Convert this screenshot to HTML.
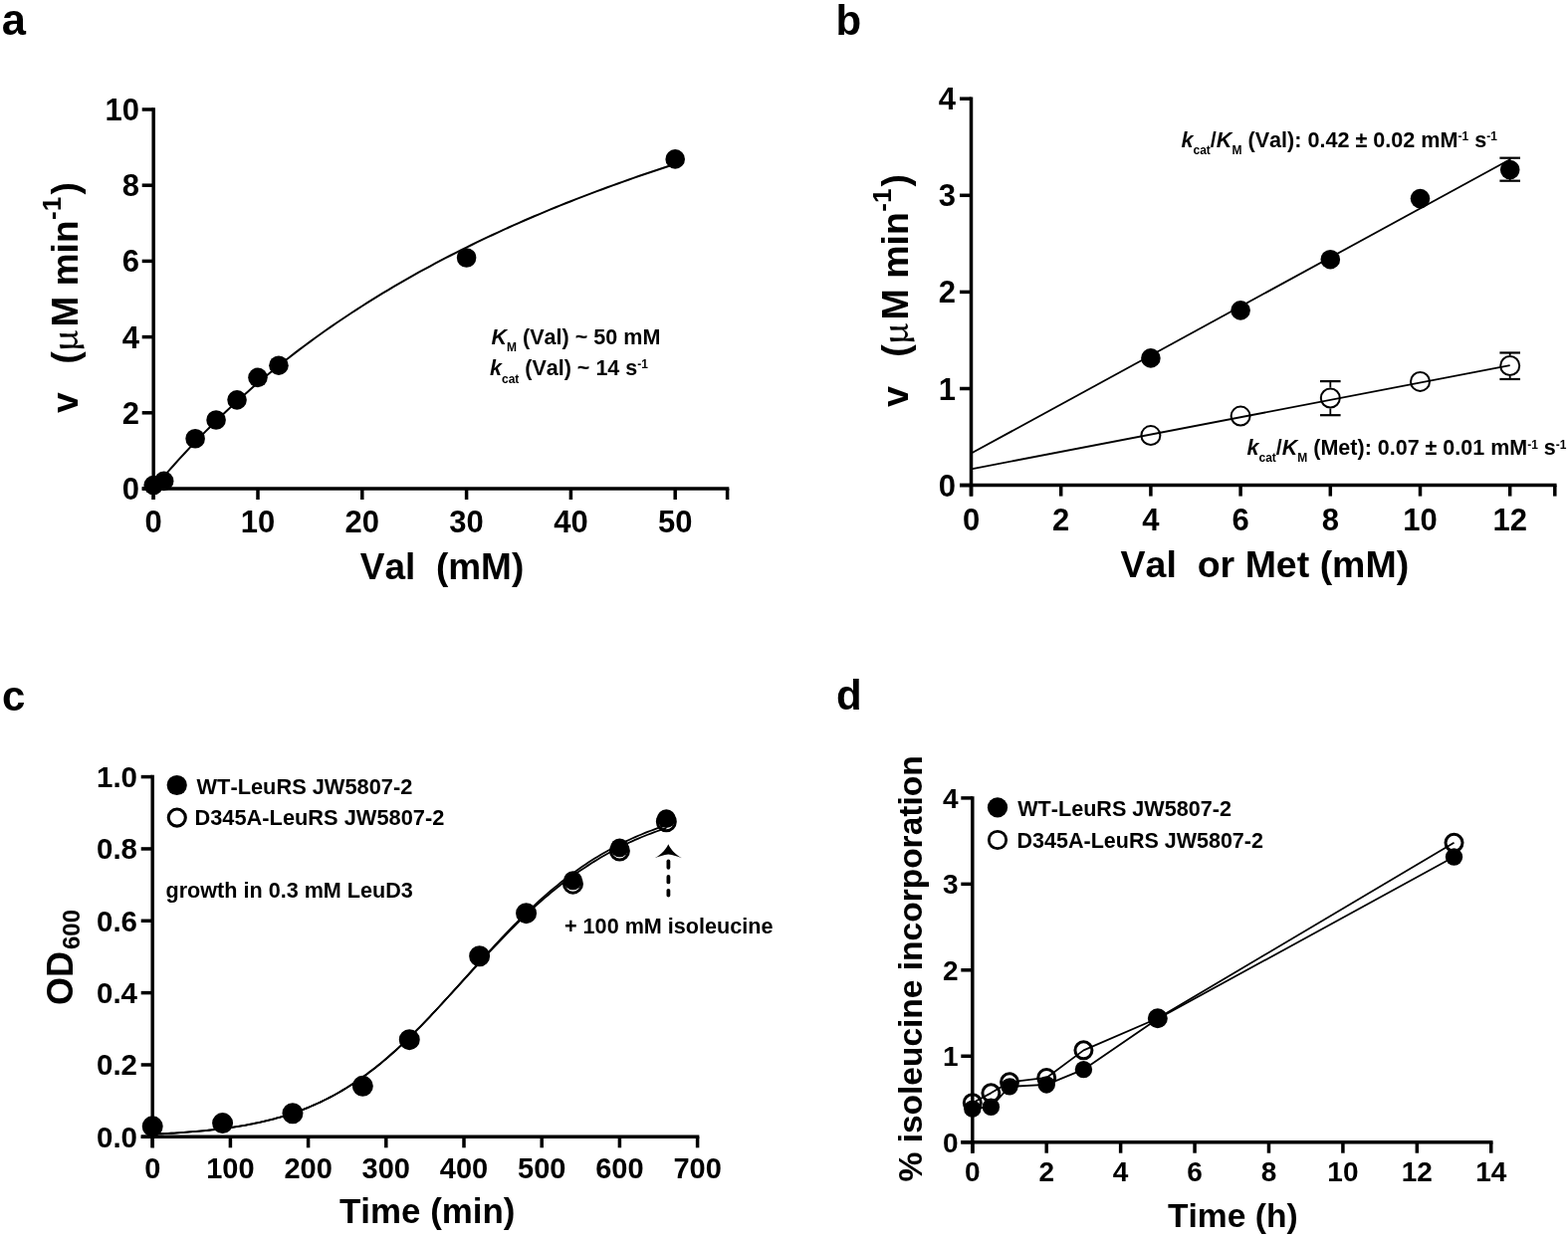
<!DOCTYPE html>
<html><head><meta charset="utf-8"><style>
html,body{margin:0;padding:0;background:#fff;}
svg{display:block;}
text{font-family:"Liberation Sans",Arial,sans-serif;font-weight:bold;fill:#000;font-kerning:none;}
</style></head><body>
<svg width="1575" height="1244" viewBox="0 0 1575 1244">
<rect width="100%" height="100%" fill="#fff"/>
<text id="a_lbl" x="1.8" y="34.6" font-size="43.5" text-anchor="start" >a</text>
<line x1="154.2" y1="108.25" x2="154.2" y2="502" stroke="#000" stroke-width="3.5" />
<line x1="142.7" y1="491" x2="732.35" y2="491" stroke="#000" stroke-width="3.5" />
<line x1="142.7" y1="491" x2="154.2" y2="491" stroke="#000" stroke-width="3.5" />
<line x1="142.7" y1="414.8" x2="154.2" y2="414.8" stroke="#000" stroke-width="3.5" />
<line x1="142.7" y1="338.6" x2="154.2" y2="338.6" stroke="#000" stroke-width="3.5" />
<line x1="142.7" y1="262.4" x2="154.2" y2="262.4" stroke="#000" stroke-width="3.5" />
<line x1="142.7" y1="186.2" x2="154.2" y2="186.2" stroke="#000" stroke-width="3.5" />
<line x1="142.7" y1="110" x2="154.2" y2="110" stroke="#000" stroke-width="3.5" />
<line x1="154.2" y1="491" x2="154.2" y2="502" stroke="#000" stroke-width="3.5" />
<line x1="259" y1="491" x2="259" y2="502" stroke="#000" stroke-width="3.5" />
<line x1="363.8" y1="491" x2="363.8" y2="502" stroke="#000" stroke-width="3.5" />
<line x1="468.6" y1="491" x2="468.6" y2="502" stroke="#000" stroke-width="3.5" />
<line x1="573.4" y1="491" x2="573.4" y2="502" stroke="#000" stroke-width="3.5" />
<line x1="678.2" y1="491" x2="678.2" y2="502" stroke="#000" stroke-width="3.5" />
<line x1="730.6" y1="491" x2="730.6" y2="502" stroke="#000" stroke-width="3.5" />
<text id="a_y0" x="140" y="502" font-size="31" text-anchor="end" >0</text>
<text id="a_y2" x="140" y="425.8" font-size="31" text-anchor="end" >2</text>
<text id="a_y4" x="140" y="349.6" font-size="31" text-anchor="end" >4</text>
<text id="a_y6" x="140" y="273.4" font-size="31" text-anchor="end" >6</text>
<text id="a_y8" x="140" y="197.2" font-size="31" text-anchor="end" >8</text>
<text id="a_y10" x="140" y="121" font-size="31" text-anchor="end" >10</text>
<text id="a_x0" x="154.2" y="535" font-size="31" text-anchor="middle" >0</text>
<text id="a_x10" x="259" y="535" font-size="31" text-anchor="middle" >10</text>
<text id="a_x20" x="363.8" y="535" font-size="31" text-anchor="middle" >20</text>
<text id="a_x30" x="468.6" y="535" font-size="31" text-anchor="middle" >30</text>
<text id="a_x40" x="573.4" y="535" font-size="31" text-anchor="middle" >40</text>
<text id="a_x50" x="678.2" y="535" font-size="31" text-anchor="middle" >50</text>
<polyline points="154.2,491 159.44,484.76 164.68,478.64 169.92,472.63 175.16,466.72 180.4,460.93 185.64,455.23 190.88,449.63 196.12,444.13 201.36,438.72 206.6,433.41 211.84,428.18 217.08,423.05 222.32,418 227.56,413.03 232.8,408.14 238.04,403.33 243.28,398.6 248.52,393.94 253.76,389.36 259,384.85 264.24,380.41 269.48,376.04 274.72,371.73 279.96,367.49 285.2,363.31 290.44,359.2 295.68,355.15 300.92,351.16 306.16,347.22 311.4,343.35 316.64,339.53 321.88,335.76 327.12,332.05 332.36,328.39 337.6,324.78 342.84,321.22 348.08,317.71 353.32,314.25 358.56,310.84 363.8,307.47 369.04,304.15 374.28,300.87 379.52,297.64 384.76,294.45 390,291.3 395.24,288.19 400.48,285.12 405.72,282.09 410.96,279.1 416.2,276.15 421.44,273.23 426.68,270.36 431.92,267.51 437.16,264.71 442.4,261.93 447.64,259.19 452.88,256.49 458.12,253.82 463.36,251.18 468.6,248.57 473.84,245.99 479.08,243.44 484.32,240.92 489.56,238.43 494.8,235.97 500.04,233.54 505.28,231.14 510.52,228.76 515.76,226.41 521,224.09 526.24,221.79 531.48,219.52 536.72,217.28 541.96,215.05 547.2,212.86 552.44,210.68 557.68,208.53 562.92,206.41 568.16,204.3 573.4,202.22 578.64,200.16 583.88,198.13 589.12,196.11 594.36,194.12 599.6,192.14 604.84,190.19 610.08,188.25 615.32,186.34 620.56,184.45 625.8,182.57 631.04,180.71 636.28,178.88 641.52,177.06 646.76,175.26 652,173.47 657.24,171.71 662.48,169.96 667.72,168.23 672.96,166.51 678.2,164.81" fill="none" stroke="#000" stroke-width="2.0" stroke-linejoin="round" />
<circle cx="154.2" cy="487.57" r="9.8" fill="#000"/>
<circle cx="164.68" cy="483.38" r="9.8" fill="#000"/>
<circle cx="196.12" cy="440.71" r="9.8" fill="#000"/>
<circle cx="217.08" cy="422.04" r="9.8" fill="#000"/>
<circle cx="238.04" cy="401.85" r="9.8" fill="#000"/>
<circle cx="259" cy="379.37" r="9.8" fill="#000"/>
<circle cx="279.96" cy="367.18" r="9.8" fill="#000"/>
<circle cx="468.6" cy="258.97" r="9.8" fill="#000"/>
<circle cx="678.2" cy="159.91" r="9.8" fill="#000"/>
<text id="a_xl" x="361.8" y="581.6" font-size="37" text-anchor="start" >Val&#160;&#160;(mM)</text>
<text id="a_km" x="493.5" y="345.6" font-size="21.55" text-anchor="start" ><tspan font-style="italic">K</tspan><tspan font-size="12" dy="7.3">M</tspan><tspan dy="-7.3"> (Val) ~ 50 mM</tspan></text>
<text id="a_kcat" x="492" y="377.3" font-size="21.5" text-anchor="start" ><tspan font-style="italic">k</tspan><tspan font-size="12" dy="7.3">cat</tspan><tspan dy="-7.3"> (Val) ~ 14 s</tspan><tspan font-size="12" dy="-7">-1</tspan></text>
<text id="a_yl" transform="translate(77.6,299) rotate(-90)" font-size="37" text-anchor="middle"><tspan>v&#160;&#160;&#160;</tspan><tspan dx="-2">(</tspan><tspan font-family="&quot;Noto Serif CJK SC&quot;, serif" font-weight="600" font-size="34">μ</tspan><tspan dx="3">M min</tspan><tspan font-size="26" dy="-17" dx="0.5">-1</tspan><tspan dy="17" dx="2.5">)</tspan></text>
<text id="b_lbl" x="839.5" y="34.5" font-size="42" text-anchor="start" >b</text>
<line x1="975.5" y1="97.45" x2="975.5" y2="498.6" stroke="#000" stroke-width="3.5" />
<line x1="964" y1="487.6" x2="1563.55" y2="487.6" stroke="#000" stroke-width="3.5" />
<line x1="964" y1="487.6" x2="975.5" y2="487.6" stroke="#000" stroke-width="3.5" />
<line x1="964" y1="390.5" x2="975.5" y2="390.5" stroke="#000" stroke-width="3.5" />
<line x1="964" y1="293.4" x2="975.5" y2="293.4" stroke="#000" stroke-width="3.5" />
<line x1="964" y1="196.3" x2="975.5" y2="196.3" stroke="#000" stroke-width="3.5" />
<line x1="964" y1="99.2" x2="975.5" y2="99.2" stroke="#000" stroke-width="3.5" />
<line x1="975.5" y1="487.6" x2="975.5" y2="498.6" stroke="#000" stroke-width="3.5" />
<line x1="1065.7" y1="487.6" x2="1065.7" y2="498.6" stroke="#000" stroke-width="3.5" />
<line x1="1155.9" y1="487.6" x2="1155.9" y2="498.6" stroke="#000" stroke-width="3.5" />
<line x1="1246.1" y1="487.6" x2="1246.1" y2="498.6" stroke="#000" stroke-width="3.5" />
<line x1="1336.3" y1="487.6" x2="1336.3" y2="498.6" stroke="#000" stroke-width="3.5" />
<line x1="1426.5" y1="487.6" x2="1426.5" y2="498.6" stroke="#000" stroke-width="3.5" />
<line x1="1516.7" y1="487.6" x2="1516.7" y2="498.6" stroke="#000" stroke-width="3.5" />
<line x1="1561.8" y1="487.6" x2="1561.8" y2="498.6" stroke="#000" stroke-width="3.5" />
<text id="b_y0" x="960" y="498.6" font-size="31" text-anchor="end" >0</text>
<text id="b_y1" x="960" y="401.5" font-size="31" text-anchor="end" >1</text>
<text id="b_y2" x="960" y="304.4" font-size="31" text-anchor="end" >2</text>
<text id="b_y3" x="960" y="207.3" font-size="31" text-anchor="end" >3</text>
<text id="b_y4" x="960" y="110.2" font-size="31" text-anchor="end" >4</text>
<text id="b_x0" x="975.5" y="533" font-size="31" text-anchor="middle" >0</text>
<text id="b_x2" x="1065.7" y="533" font-size="31" text-anchor="middle" >2</text>
<text id="b_x4" x="1155.9" y="533" font-size="31" text-anchor="middle" >4</text>
<text id="b_x6" x="1246.1" y="533" font-size="31" text-anchor="middle" >6</text>
<text id="b_x8" x="1336.3" y="533" font-size="31" text-anchor="middle" >8</text>
<text id="b_x10" x="1426.5" y="533" font-size="31" text-anchor="middle" >10</text>
<text id="b_x12" x="1516.7" y="533" font-size="31" text-anchor="middle" >12</text>
<polyline points="975.5,455.56 1516.7,160.3" fill="none" stroke="#000" stroke-width="1.8" stroke-linejoin="round" />
<polyline points="975.5,471.29 1516.7,367.23" fill="none" stroke="#000" stroke-width="1.8" stroke-linejoin="round" />
<line x1="1516.7" y1="158.7" x2="1516.7" y2="161.57" stroke="#000" stroke-width="1.8" />
<line x1="1516.7" y1="179.57" x2="1516.7" y2="181.7" stroke="#000" stroke-width="1.8" />
<line x1="1506.4" y1="158.7" x2="1527" y2="158.7" stroke="#000" stroke-width="2.2" />
<line x1="1506.4" y1="181.7" x2="1527" y2="181.7" stroke="#000" stroke-width="2.2" />
<line x1="1336.3" y1="383.12" x2="1336.3" y2="389.52" stroke="#000" stroke-width="1.8" />
<line x1="1336.3" y1="410.52" x2="1336.3" y2="417.2" stroke="#000" stroke-width="1.8" />
<line x1="1326" y1="383.12" x2="1346.6" y2="383.12" stroke="#000" stroke-width="2.2" />
<line x1="1326" y1="417.2" x2="1346.6" y2="417.2" stroke="#000" stroke-width="2.2" />
<line x1="1516.7" y1="354.48" x2="1516.7" y2="356.99" stroke="#000" stroke-width="1.8" />
<line x1="1516.7" y1="377.99" x2="1516.7" y2="380.98" stroke="#000" stroke-width="1.8" />
<line x1="1506.4" y1="354.48" x2="1527" y2="354.48" stroke="#000" stroke-width="2.2" />
<line x1="1506.4" y1="380.98" x2="1527" y2="380.98" stroke="#000" stroke-width="2.2" />
<circle cx="1155.9" cy="359.91" r="9.8" fill="#000"/>
<circle cx="1246.1" cy="311.85" r="9.8" fill="#000"/>
<circle cx="1336.3" cy="260.68" r="9.8" fill="#000"/>
<circle cx="1426.5" cy="199.6" r="9.8" fill="#000"/>
<circle cx="1516.7" cy="170.57" r="9.8" fill="#000"/>
<circle cx="1155.9" cy="437.59" r="9.5" fill="none" stroke="#000" stroke-width="2"/>
<circle cx="1246.1" cy="418.08" r="9.5" fill="none" stroke="#000" stroke-width="2"/>
<circle cx="1336.3" cy="400.02" r="9.5" fill="none" stroke="#000" stroke-width="2"/>
<circle cx="1426.5" cy="383.41" r="9.5" fill="none" stroke="#000" stroke-width="2"/>
<circle cx="1516.7" cy="367.49" r="9.5" fill="none" stroke="#000" stroke-width="2"/>
<text id="b_xl" x="1125.6" y="580.2" font-size="37.5" text-anchor="start" >Val&#160;&#160;or Met (mM)</text>
<text id="b_ann1" x="1186.5" y="147.5" font-size="21.6" text-anchor="start" ><tspan font-style="italic">k</tspan><tspan font-size="12" dy="7.3">cat</tspan><tspan dy="-7.3">/</tspan><tspan font-style="italic">K</tspan><tspan font-size="12" dy="7.3">M</tspan><tspan dy="-7.3"> (Val): </tspan><tspan>0.42 ± 0.02 mM</tspan><tspan font-size="12" dy="-6.5">-1</tspan><tspan dy="6.5"> s</tspan><tspan font-size="12" dy="-6.5">-1</tspan></text>
<text id="b_ann2" x="1252.5" y="457.1" font-size="21.5" text-anchor="start" ><tspan font-style="italic">k</tspan><tspan font-size="12" dy="7.3">cat</tspan><tspan dy="-7.3">/</tspan><tspan font-style="italic">K</tspan><tspan font-size="12" dy="7.3">M</tspan><tspan dy="-7.3"> (Met): </tspan><tspan>0.07 ± 0.01 mM</tspan><tspan font-size="12" dy="-6.5">-1</tspan><tspan dy="6.5"> s</tspan><tspan font-size="12" dy="-6.5">-1</tspan></text>
<text id="b_yl" transform="translate(911.6,292) rotate(-90)" font-size="37.5" text-anchor="middle"><tspan>v&#160;&#160;&#160;</tspan><tspan dx="-2">(</tspan><tspan font-family="&quot;Noto Serif CJK SC&quot;, serif" font-weight="600" font-size="34">μ</tspan><tspan dx="3">M min</tspan><tspan font-size="26" dy="-17" dx="0.5">-1</tspan><tspan dy="17" dx="2">)</tspan></text>
<text id="c_lbl" x="2" y="713.5" font-size="42" text-anchor="start" >c</text>
<line x1="153.2" y1="778.85" x2="153.2" y2="1153.3" stroke="#000" stroke-width="3.5" />
<line x1="141.7" y1="1142.3" x2="702.35" y2="1142.3" stroke="#000" stroke-width="3.5" />
<line x1="141.7" y1="1142.3" x2="153.2" y2="1142.3" stroke="#000" stroke-width="3.5" />
<line x1="141.7" y1="1069.96" x2="153.2" y2="1069.96" stroke="#000" stroke-width="3.5" />
<line x1="141.7" y1="997.62" x2="153.2" y2="997.62" stroke="#000" stroke-width="3.5" />
<line x1="141.7" y1="925.28" x2="153.2" y2="925.28" stroke="#000" stroke-width="3.5" />
<line x1="141.7" y1="852.94" x2="153.2" y2="852.94" stroke="#000" stroke-width="3.5" />
<line x1="141.7" y1="780.6" x2="153.2" y2="780.6" stroke="#000" stroke-width="3.5" />
<line x1="153.2" y1="1142.3" x2="153.2" y2="1153.3" stroke="#000" stroke-width="3.5" />
<line x1="231.4" y1="1142.3" x2="231.4" y2="1153.3" stroke="#000" stroke-width="3.5" />
<line x1="309.6" y1="1142.3" x2="309.6" y2="1153.3" stroke="#000" stroke-width="3.5" />
<line x1="387.8" y1="1142.3" x2="387.8" y2="1153.3" stroke="#000" stroke-width="3.5" />
<line x1="466" y1="1142.3" x2="466" y2="1153.3" stroke="#000" stroke-width="3.5" />
<line x1="544.2" y1="1142.3" x2="544.2" y2="1153.3" stroke="#000" stroke-width="3.5" />
<line x1="622.4" y1="1142.3" x2="622.4" y2="1153.3" stroke="#000" stroke-width="3.5" />
<line x1="700.6" y1="1142.3" x2="700.6" y2="1153.3" stroke="#000" stroke-width="3.5" />
<text id="c_y0" x="138" y="1152.8" font-size="29.5" text-anchor="end" >0.0</text>
<text id="c_y1" x="138" y="1080.46" font-size="29.5" text-anchor="end" >0.2</text>
<text id="c_y2" x="138" y="1008.12" font-size="29.5" text-anchor="end" >0.4</text>
<text id="c_y3" x="138" y="935.78" font-size="29.5" text-anchor="end" >0.6</text>
<text id="c_y4" x="138" y="863.44" font-size="29.5" text-anchor="end" >0.8</text>
<text id="c_y5" x="138" y="791.1" font-size="29.5" text-anchor="end" >1.0</text>
<text id="c_x0" x="153.2" y="1184" font-size="29" text-anchor="middle" >0</text>
<text id="c_x100" x="231.4" y="1184" font-size="29" text-anchor="middle" >100</text>
<text id="c_x200" x="309.6" y="1184" font-size="29" text-anchor="middle" >200</text>
<text id="c_x300" x="387.8" y="1184" font-size="29" text-anchor="middle" >300</text>
<text id="c_x400" x="466" y="1184" font-size="29" text-anchor="middle" >400</text>
<text id="c_x500" x="544.2" y="1184" font-size="29" text-anchor="middle" >500</text>
<text id="c_x600" x="622.4" y="1184" font-size="29" text-anchor="middle" >600</text>
<text id="c_x700" x="700.6" y="1184" font-size="29" text-anchor="middle" >700</text>
<polyline points="153.2,1139.68 156.33,1139.54 159.46,1139.4 162.58,1139.24 165.71,1139.08 168.84,1138.92 171.97,1138.74 175.1,1138.55 178.22,1138.36 181.35,1138.15 184.48,1137.93 187.61,1137.71 190.74,1137.47 193.86,1137.22 196.99,1136.96 200.12,1136.68 203.25,1136.39 206.38,1136.09 209.5,1135.77 212.63,1135.44 215.76,1135.09 218.89,1134.73 222.02,1134.34 225.14,1133.94 228.27,1133.52 231.4,1133.08 234.53,1132.62 237.66,1132.14 240.78,1131.63 243.91,1131.1 247.04,1130.55 250.17,1129.97 253.3,1129.37 256.42,1128.74 259.55,1128.08 262.68,1127.39 265.81,1126.67 268.94,1125.92 272.06,1125.14 275.19,1124.33 278.32,1123.48 281.45,1122.59 284.58,1121.67 287.7,1120.71 290.83,1119.71 293.96,1118.67 297.09,1117.59 300.22,1116.46 303.34,1115.3 306.47,1114.08 309.6,1112.82 312.73,1111.52 315.86,1110.17 318.98,1108.76 322.11,1107.31 325.24,1105.8 328.37,1104.25 331.5,1102.64 334.62,1100.98 337.75,1099.26 340.88,1097.48 344.01,1095.65 347.14,1093.77 350.26,1091.82 353.39,1089.82 356.52,1087.76 359.65,1085.64 362.78,1083.47 365.9,1081.23 369.03,1078.94 372.16,1076.58 375.29,1074.17 378.42,1071.7 381.54,1069.18 384.67,1066.59 387.8,1063.95 390.93,1061.26 394.06,1058.51 397.18,1055.71 400.31,1052.85 403.44,1049.94 406.57,1046.99 409.7,1043.99 412.82,1040.94 415.95,1037.84 419.08,1034.71 422.21,1031.53 425.34,1028.32 428.46,1025.06 431.59,1021.78 434.72,1018.46 437.85,1015.12 440.98,1011.75 444.1,1008.35 447.23,1004.94 450.36,1001.5 453.49,998.11 456.62,994.71 459.74,991.3 462.87,987.88 466,984.46 469.13,981.04 472.26,977.61 475.38,974.19 478.51,970.78 481.64,967.38 484.77,963.99 487.9,960.61 491.02,957.25 494.15,953.91 497.28,950.59 500.41,947.3 503.54,944.03 506.66,940.79 509.79,937.58 512.92,934.41 516.05,931.27 519.18,928.17 522.3,925.1 525.43,922.07 528.56,919.09 531.69,916.15 534.82,913.25 537.94,910.39 541.07,907.59 544.2,904.83 547.33,902.11 550.46,899.45 553.58,896.83 556.71,894.26 559.84,891.75 562.97,889.28 566.1,886.87 569.22,884.5 572.35,882.19 575.48,879.92 578.61,877.71 581.74,875.55 584.86,873.44 587.99,871.38 591.12,869.37 594.25,867.35 597.38,865.37 600.5,863.45 603.63,861.57 606.76,859.74 609.89,857.96 613.02,856.22 616.14,854.53 619.27,852.89 622.4,851.29 625.53,849.73 628.66,848.22 631.78,846.75 634.91,845.32 638.04,843.93 641.17,842.58 644.3,841.27 647.42,840 650.55,838.76 653.68,837.56 656.81,836.4 659.94,835.27 663.06,834.18 666.19,833.12 669.32,832.09" fill="none" stroke="#000" stroke-width="1.8" stroke-linejoin="round" />
<polyline points="153.2,1139.68 156.33,1139.54 159.46,1139.4 162.58,1139.24 165.71,1139.08 168.84,1138.92 171.97,1138.74 175.1,1138.55 178.22,1138.36 181.35,1138.15 184.48,1137.93 187.61,1137.71 190.74,1137.47 193.86,1137.22 196.99,1136.96 200.12,1136.68 203.25,1136.39 206.38,1136.09 209.5,1135.77 212.63,1135.44 215.76,1135.09 218.89,1134.73 222.02,1134.34 225.14,1133.94 228.27,1133.52 231.4,1133.08 234.53,1132.62 237.66,1132.14 240.78,1131.63 243.91,1131.1 247.04,1130.55 250.17,1129.97 253.3,1129.37 256.42,1128.74 259.55,1128.08 262.68,1127.39 265.81,1126.67 268.94,1125.92 272.06,1125.14 275.19,1124.33 278.32,1123.48 281.45,1122.59 284.58,1121.67 287.7,1120.71 290.83,1119.71 293.96,1118.67 297.09,1117.59 300.22,1116.46 303.34,1115.3 306.47,1114.08 309.6,1112.82 312.73,1111.52 315.86,1110.17 318.98,1108.76 322.11,1107.31 325.24,1105.8 328.37,1104.25 331.5,1102.64 334.62,1100.98 337.75,1099.26 340.88,1097.48 344.01,1095.65 347.14,1093.77 350.26,1091.82 353.39,1089.82 356.52,1087.76 359.65,1085.64 362.78,1083.47 365.9,1081.23 369.03,1078.94 372.16,1076.58 375.29,1074.17 378.42,1071.7 381.54,1069.18 384.67,1066.59 387.8,1063.95 390.93,1061.26 394.06,1058.51 397.18,1055.71 400.31,1052.85 403.44,1049.94 406.57,1046.99 409.7,1043.99 412.82,1040.94 415.95,1037.84 419.08,1034.71 422.21,1031.53 425.34,1028.32 428.46,1025.06 431.59,1021.78 434.72,1018.46 437.85,1015.12 440.98,1011.75 444.1,1008.35 447.23,1004.94 450.36,1001.5 453.49,998.05 456.62,994.59 459.74,991.11 462.87,987.63 466,984.15 469.13,980.66 472.26,977.18 475.38,973.7 478.51,970.22 481.64,966.75 484.77,963.3 487.9,959.86 491.02,956.44 494.15,953.04 497.28,949.66 500.41,946.3 503.54,942.97 506.66,939.67 509.79,936.4 512.92,933.17 516.05,929.96 519.18,926.8 522.3,923.67 525.43,920.58 528.56,917.53 531.69,914.53 534.82,911.57 537.94,908.65 541.07,905.78 544.2,902.96 547.33,900.18 550.46,897.46 553.58,894.78 556.71,892.15 559.84,889.57 562.97,887.04 566.1,884.56 569.22,882.14 572.35,879.76 575.48,877.44 578.61,875.16 581.74,872.94 584.86,870.76 587.99,868.64 591.12,866.57 594.25,864.55 597.38,862.57 600.5,860.65 603.63,858.77 606.76,856.94 609.89,855.16 613.02,853.42 616.14,851.73 619.27,850.09 622.4,848.49 625.53,846.93 628.66,845.42 631.78,843.95 634.91,842.52 638.04,841.13 641.17,839.78 644.3,838.47 647.42,837.2 650.55,835.96 653.68,834.76 656.81,833.6 659.94,832.47 663.06,831.38 666.19,830.32 669.32,829.29" fill="none" stroke="#000" stroke-width="1.8" stroke-linejoin="round" />
<circle cx="153.2" cy="1131.81" r="9" fill="none" stroke="#000" stroke-width="3"/>
<circle cx="223.58" cy="1128.56" r="9" fill="none" stroke="#000" stroke-width="3"/>
<circle cx="293.96" cy="1118.79" r="9" fill="none" stroke="#000" stroke-width="3"/>
<circle cx="364.34" cy="1091.3" r="9" fill="none" stroke="#000" stroke-width="3"/>
<circle cx="411.26" cy="1044.64" r="9" fill="none" stroke="#000" stroke-width="3"/>
<circle cx="481.64" cy="960.73" r="9" fill="none" stroke="#000" stroke-width="3"/>
<circle cx="528.56" cy="917.68" r="9" fill="none" stroke="#000" stroke-width="3"/>
<circle cx="575.48" cy="888.17" r="9" fill="none" stroke="#000" stroke-width="3"/>
<circle cx="622.4" cy="855.05" r="9" fill="none" stroke="#000" stroke-width="3"/>
<circle cx="669.32" cy="825.76" r="9" fill="none" stroke="#000" stroke-width="3"/>
<circle cx="153.2" cy="1131.81" r="9.6" fill="#000"/>
<circle cx="223.58" cy="1128.56" r="9.6" fill="#000"/>
<circle cx="293.96" cy="1118.79" r="9.6" fill="#000"/>
<circle cx="364.34" cy="1091.3" r="9.6" fill="#000"/>
<circle cx="411.26" cy="1044.64" r="9.6" fill="#000"/>
<circle cx="481.64" cy="960.73" r="9.6" fill="#000"/>
<circle cx="528.56" cy="917.68" r="9.6" fill="#000"/>
<circle cx="575.48" cy="884.77" r="9.4" fill="#000"/>
<circle cx="622.4" cy="851.85" r="9.4" fill="#000"/>
<circle cx="669.32" cy="822.56" r="9.4" fill="#000"/>
<circle cx="177.7" cy="789" r="10.1" fill="#000"/>
<circle cx="177.8" cy="821.6" r="8.55" fill="none" stroke="#000" stroke-width="3.1"/>
<text id="c_lg1" x="197.5" y="797.8" font-size="21.8" text-anchor="start" >WT-LeuRS JW5807-2</text>
<text id="c_lg2" x="195.5" y="829" font-size="21.8" text-anchor="start" >D345A-LeuRS JW5807-2</text>
<text id="c_grow" x="166.5" y="902.2" font-size="21.6" text-anchor="start" >growth in 0.3 mM LeuD3</text>
<text id="c_iso" x="567" y="938.1" font-size="21.6" text-anchor="start" >+ 100 mM isoleucine</text>
<line x1="671.4" y1="865.4" x2="671.4" y2="871.8" stroke="#000" stroke-width="3.8" stroke-linecap="round"/>
<line x1="671.4" y1="880.9" x2="671.4" y2="886.4" stroke="#000" stroke-width="3.8" stroke-linecap="round"/>
<line x1="671.4" y1="894.8" x2="671.4" y2="899.6" stroke="#000" stroke-width="3.8" stroke-linecap="round"/>
<path d="M671.3,848.2 C673.3,852.8 677.6,858 685,862.2 C680.6,860.9 675.8,859 671.3,858.6 C666.8,859 662,860.9 657.6,862.2 C665,858 669.3,852.8 671.3,848.2 Z" fill="#000"/>
<text id="c_yl" transform="translate(72.8,962) rotate(-90)" font-size="36" text-anchor="middle">OD<tspan font-size="24" dy="7" dx="2">600</tspan></text>
<text id="d_lbl" x="840" y="712.8" font-size="42" text-anchor="start" >d</text>
<line x1="976.8" y1="800.15" x2="976.8" y2="1158.7" stroke="#000" stroke-width="3.5" />
<line x1="965.3" y1="1147.7" x2="1499.49" y2="1147.7" stroke="#000" stroke-width="3.5" />
<line x1="965.3" y1="1147.7" x2="976.8" y2="1147.7" stroke="#000" stroke-width="3.5" />
<line x1="965.3" y1="1061.25" x2="976.8" y2="1061.25" stroke="#000" stroke-width="3.5" />
<line x1="965.3" y1="974.8" x2="976.8" y2="974.8" stroke="#000" stroke-width="3.5" />
<line x1="965.3" y1="888.35" x2="976.8" y2="888.35" stroke="#000" stroke-width="3.5" />
<line x1="965.3" y1="801.9" x2="976.8" y2="801.9" stroke="#000" stroke-width="3.5" />
<line x1="976.8" y1="1147.7" x2="976.8" y2="1158.7" stroke="#000" stroke-width="3.5" />
<line x1="1051.22" y1="1147.7" x2="1051.22" y2="1158.7" stroke="#000" stroke-width="3.5" />
<line x1="1125.64" y1="1147.7" x2="1125.64" y2="1158.7" stroke="#000" stroke-width="3.5" />
<line x1="1200.06" y1="1147.7" x2="1200.06" y2="1158.7" stroke="#000" stroke-width="3.5" />
<line x1="1274.48" y1="1147.7" x2="1274.48" y2="1158.7" stroke="#000" stroke-width="3.5" />
<line x1="1348.9" y1="1147.7" x2="1348.9" y2="1158.7" stroke="#000" stroke-width="3.5" />
<line x1="1423.32" y1="1147.7" x2="1423.32" y2="1158.7" stroke="#000" stroke-width="3.5" />
<line x1="1497.74" y1="1147.7" x2="1497.74" y2="1158.7" stroke="#000" stroke-width="3.5" />
<text id="d_y0" x="962.5" y="1157.7" font-size="28" text-anchor="end" >0</text>
<text id="d_y1" x="962.5" y="1071.25" font-size="28" text-anchor="end" >1</text>
<text id="d_y2" x="962.5" y="984.8" font-size="28" text-anchor="end" >2</text>
<text id="d_y3" x="962.5" y="898.35" font-size="28" text-anchor="end" >3</text>
<text id="d_y4" x="962.5" y="811.9" font-size="28" text-anchor="end" >4</text>
<text id="d_x0" x="976.8" y="1187" font-size="28" text-anchor="middle" >0</text>
<text id="d_x2" x="1051.22" y="1187" font-size="28" text-anchor="middle" >2</text>
<text id="d_x4" x="1125.64" y="1187" font-size="28" text-anchor="middle" >4</text>
<text id="d_x6" x="1200.06" y="1187" font-size="28" text-anchor="middle" >6</text>
<text id="d_x8" x="1274.48" y="1187" font-size="28" text-anchor="middle" >8</text>
<text id="d_x10" x="1348.9" y="1187" font-size="28" text-anchor="middle" >10</text>
<text id="d_x12" x="1423.32" y="1187" font-size="28" text-anchor="middle" >12</text>
<text id="d_x14" x="1497.74" y="1187" font-size="28" text-anchor="middle" >14</text>
<polyline points="976.8,1108.19 995.4,1098.34 1014.01,1087.36 1051.22,1082.95 1088.43,1055.37 1162.85,1023.21 1460.53,846.85" fill="none" stroke="#000" stroke-width="1.8" stroke-linejoin="round" />
<polyline points="976.8,1114.16 995.4,1112.26 1014.01,1091.85 1051.22,1089.95 1088.43,1074.65 1162.85,1023.73 1460.53,861.03" fill="none" stroke="#000" stroke-width="1.8" stroke-linejoin="round" />
<circle cx="976.8" cy="1108.19" r="8.5" fill="none" stroke="#000" stroke-width="3"/>
<circle cx="995.4" cy="1098.34" r="8.5" fill="none" stroke="#000" stroke-width="3"/>
<circle cx="1014.01" cy="1087.36" r="8.5" fill="none" stroke="#000" stroke-width="3"/>
<circle cx="1051.22" cy="1082.95" r="8.5" fill="none" stroke="#000" stroke-width="3"/>
<circle cx="1088.43" cy="1055.37" r="8.5" fill="none" stroke="#000" stroke-width="3"/>
<circle cx="1162.85" cy="1023.21" r="8.5" fill="none" stroke="#000" stroke-width="3"/>
<circle cx="1460.53" cy="846.85" r="8.5" fill="none" stroke="#000" stroke-width="3"/>
<circle cx="976.8" cy="1114.16" r="8.7" fill="#000"/>
<circle cx="995.4" cy="1112.26" r="8.7" fill="#000"/>
<circle cx="1014.01" cy="1091.85" r="8.7" fill="#000"/>
<circle cx="1051.22" cy="1089.95" r="8.7" fill="#000"/>
<circle cx="1088.43" cy="1074.65" r="8.7" fill="#000"/>
<circle cx="1162.85" cy="1023.73" r="8.7" fill="#000"/>
<circle cx="1460.53" cy="861.03" r="8.7" fill="#000"/>
<circle cx="1002" cy="811.4" r="10.1" fill="#000"/>
<circle cx="1002" cy="844" r="8.7" fill="none" stroke="#000" stroke-width="2.8"/>
<text id="d_lg1" x="1022.2" y="820" font-size="21.6" text-anchor="start" >WT-LeuRS JW5807-2</text>
<text id="d_lg2" x="1021.6" y="851.5" font-size="21.5" text-anchor="start" >D345A-LeuRS JW5807-2</text>
<text id="d_xl" x="1173" y="1233.3" font-size="33.6" text-anchor="start" >Time (h)</text>
<text id="c_xl" x="341" y="1228.8" font-size="34.9" text-anchor="start" >Time (min)</text>
<text id="d_yl" transform="translate(926.3,973.4) rotate(-90)" font-size="33.5" text-anchor="middle">% isoleucine incorporation</text>
</svg>
</body></html>
